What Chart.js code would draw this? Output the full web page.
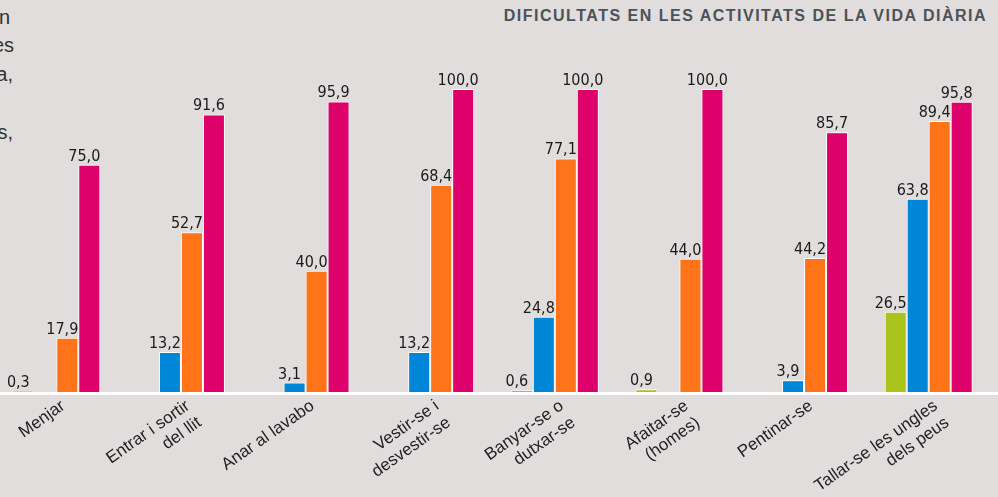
<!DOCTYPE html>
<html>
<head>
<meta charset="utf-8">
<script src="https://cdn.jsdelivr.net/npm/chart.js@4.4.1/dist/chart.umd.min.js"></script>
<style>
  html, body { margin: 0; padding: 0; background: #e0dddc; overflow: hidden; }
  body { width: 998px; height: 497px; position: relative; }
  #wrap { position: absolute; left: -6px; top: 0; width: 1004px; height: 497px; }
  #title {
    position: absolute; right: 11px; top: 7px;
    font: bold 16px "Liberation Sans", Arial, sans-serif;
    letter-spacing: 1.5px; color: #4b5259; white-space: nowrap;
  }
  .frag {
    position: absolute; font: 20px "Liberation Sans", Arial, sans-serif;
    color: #333; white-space: nowrap; text-align: right;
  }
</style>
</head>
<body>
<div class="frag" style="right:988px; top:6px;">n</div>
<div class="frag" style="right:984px; top:34px;">es</div>
<div class="frag" style="right:985px; top:63px;">a,</div>
<div class="frag" style="right:985px; top:121px;">s,</div>
<div id="title">DIFICULTATS EN LES ACTIVITATS DE LA VIDA DIÀRIA</div>
<div id="wrap"><canvas id="chart" width="1004" height="497"></canvas></div>
<script>
const categories = [
    'Menjar',
    ['Entrar i sortir', 'del llit'],
    'Anar al lavabo',
    ['Vestir-se i', 'desvestir-se'],
    ['Banyar-se o', 'dutxar-se'],
    ['Afaitar-se', '(homes)'],
    'Pentinar-se',
    ['Tallar-se les ungles', 'dels peus']
];
const greenValues = [0.3, null, null, null, 0.6, 0.9, null, 26.5];
const blueValues = [null, 13.2, 3.1, 13.2, 24.8, null, 3.9, 63.8];
const orangeValues = [17.9, 52.7, 40.0, 68.4, 77.1, 44.0, 44.2, 89.4];
const magentaValues = [75.0, 91.6, 95.9, 100.0, 100.0, 100.0, 85.7, 95.8];

const seriesColors = ['#a8c41b', '#0086d6', '#ff7418', '#de006b'];

// value labels above each bar (comma decimals)
const valueLabels = {
    id: 'valueLabels',
    afterDatasetsDraw(chart) {
        const ctx = chart.ctx;
        ctx.save();
        ctx.font = '16px "Liberation Sans Narrow", "DejaVu Sans Condensed", sans-serif';
        ctx.fillStyle = '#1a1a1a';
        ctx.textAlign = 'center';
        ctx.textBaseline = 'alphabetic';
        chart.data.datasets.forEach((ds, i) => {
            chart.getDatasetMeta(i).data.forEach((bar, j) => {
                const v = ds.data[j];
                if (v === null) return;
                ctx.fillText(v.toFixed(1).replace('.', ','), bar.x - 5, bar.y - 4);
            });
        });
        ctx.restore();
    }
};

// white baseline across the whole width
const baseline = {
    id: 'baseline',
    afterDatasetsDraw(chart) {
        const ctx = chart.ctx;
        const y = chart.scales.y.getPixelForValue(0);
        ctx.save();
        ctx.fillStyle = '#ffffff';
        ctx.fillRect(0, y, chart.width, 3);
        ctx.restore();
    }
};

new Chart(document.getElementById('chart'), {
    type: 'bar',
    data: {
        labels: categories,
        datasets: [
            { data: greenValues, backgroundColor: seriesColors[0] },
            { data: blueValues, backgroundColor: seriesColors[1] },
            { data: orangeValues, backgroundColor: seriesColors[2] },
            { data: magentaValues, backgroundColor: seriesColors[3] }
        ].map(ds => Object.assign(ds, {
            borderColor: '#ffffff',
            borderWidth: 1,
            barPercentage: 1,
            categoryPercentage: 0.706
        }))
    },
    options: {
        responsive: false,
        animation: false,
        layout: { padding: { top: 89, right: 7, left: 0, bottom: 0 } },
        plugins: {
            legend: { display: false },
            tooltip: { enabled: false }
        },
        scales: {
            x: {
                grid: { display: false },
                border: { display: false },
                ticks: {
                    minRotation: 35,
                    maxRotation: 35,
                    padding: -4,
                    labelOffset: 7,
                    color: '#222',
                    font: { family: '"Liberation Sans", Arial, sans-serif', size: 17 }
                },
                afterFit: function(scale) {
                    scale.height = 105;
                }
            },
            y: {
                display: false,
                min: 0,
                max: 100
            }
        }
    },
    plugins: [valueLabels, baseline]
});
</script>
</body>
</html>
